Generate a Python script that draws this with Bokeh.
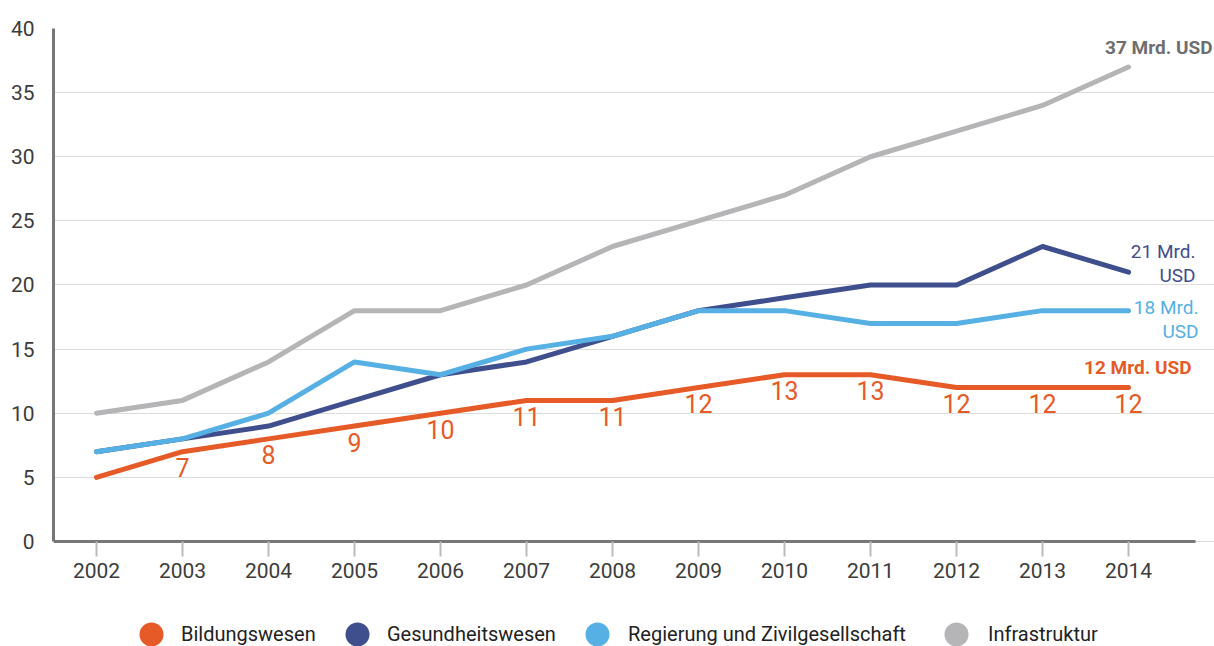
from bokeh.plotting import figure
from bokeh.models import (ColumnDataSource, Label, Legend, LegendItem, FixedTicker, Range1d)
from bokeh.core.properties import value
from bokeh.embed import file_html
from bokeh.resources import INLINE

years = [2002, 2003, 2004, 2005, 2006, 2007, 2008, 2009, 2010, 2011, 2012, 2013, 2014]
bildung = [5, 7, 8, 9, 10, 11, 11, 12, 13, 13, 12, 12, 12]
gesundheit = [7, 8, 9, 11, 13, 14, 16, 18, 19, 20, 20, 23, 21]
regierung = [7, 8, 10, 14, 13, 15, 16, 18, 18, 17, 17, 18, 18]
infrastruktur = [10, 11, 14, 18, 18, 20, 23, 25, 27, 30, 32, 34, 37]
y_ticks = [0, 5, 10, 15, 20, 25, 30, 35, 40]
series_names = ["Bildungswesen", "Gesundheitswesen", "Regierung und Zivilgesellschaft", "Infrastruktur"]
end_labels = ["12 Mrd. USD", "21 Mrd.\nUSD", "18 Mrd.\nUSD", "37 Mrd. USD"]

C_OR = "#E65A28"
C_NV = "#3F4E8C"
C_LB = "#56B0E3"
C_GR = "#B5B5B7"
FONT = "Roboto"

p = figure(width=1214, height=646, output_backend="svg", toolbar_location=None,
           x_range=Range1d(2001.5, 2015.0), y_range=Range1d(-8.19, 40),
           min_border_left=53, min_border_right=0, min_border_top=28, min_border_bottom=0)
p.outline_line_color = None
p.background_fill_color = "white"
p.border_fill_color = "white"

p.xgrid.grid_line_color = None
p.ygrid.grid_line_color = "#DCDCDC"
p.ygrid.grid_line_width = 1
p.ygrid.ticker = FixedTicker(ticks=y_ticks)

p.yaxis.ticker = FixedTicker(ticks=y_ticks)
p.yaxis.bounds = (0, 40)
p.yaxis.axis_line_color = "#77777A"
p.yaxis.axis_line_width = 3
p.yaxis.major_tick_line_color = None
p.yaxis.minor_tick_line_color = None
p.yaxis.major_label_standoff = 13
p.yaxis.major_label_text_font = FONT
p.yaxis.major_label_text_font_size = "21px"
p.yaxis.major_label_text_color = "#3C3C3C"

p.xaxis.fixed_location = 0
p.xaxis.bounds = (2001.5, 2014.78)
p.xaxis.ticker = FixedTicker(ticks=years)
p.xaxis.axis_line_color = "#77777A"
p.xaxis.axis_line_width = 3
p.xaxis.major_tick_line_color = "#BBBBBB"
p.xaxis.major_tick_line_width = 2
p.xaxis.major_tick_out = 15
p.xaxis.major_tick_in = 0
p.xaxis.minor_tick_line_color = None
p.xaxis.major_label_standoff = 7
p.xaxis.major_label_text_font = FONT
p.xaxis.major_label_text_font_size = "21px"
p.xaxis.major_label_text_color = "#3C3C3C"

src = ColumnDataSource(dict(x=years, b=bildung, g=gesundheit, r=regierung, i=infrastruktur))

series = [("b", C_OR), ("g", C_NV), ("r", C_LB), ("i", C_GR)]
for col, color in [("i", C_GR), ("g", C_NV), ("r", C_LB), ("b", C_OR)]:
    p.line("x", col, source=src, line_color=color, line_width=5,
           line_join="round", line_cap="round")

# value labels under the orange line (skip first year)
lab_src = ColumnDataSource(dict(x=years[1:], y=bildung[1:], t=[str(v) for v in bildung[1:]]))
p.text("x", "y", text="t", source=lab_src, text_color=C_OR, text_font=value(FONT),
       text_font_size="25px", text_align="center", text_baseline="middle", y_offset=16)

# end labels
end_specs = [
    (bildung[-1], end_labels[0], C_OR, "bold", 63, 20),
    (gesundheit[-1], end_labels[1], C_NV, "normal", 67, 9),
    (regierung[-1], end_labels[2], C_LB, "normal", 70, -9),
    (infrastruktur[-1], end_labels[3], "#6E6E70", "bold", 84, 19),
]
for yv, txt, color, style, xo, yo in end_specs:
    p.add_layout(Label(x=years[-1], y=yv, text=txt, x_offset=xo, y_offset=yo,
                       text_align="right", text_baseline="middle", text_color=color,
                       text_font=FONT, text_font_style=style, text_font_size="19px",
                       text_line_height=1.05))

# legend: one legend per item at fixed positions (hidden dot renderers as swatches)
leg_centers = [151, 357, 597, 956]
leg_standoffs = [0, 0, 1, 2]
for name, (col, color), cx, so in zip(series_names, series, leg_centers, leg_standoffs):
    r = p.scatter("x", col, source=src, marker="circle", size=24, fill_color=color,
                  line_color=None, visible=False)
    leg = Legend(items=[LegendItem(label=name, renderers=[r])],
                 location=(cx - 53 - 30, -18), orientation="horizontal",
                 glyph_width=60, glyph_height=60, label_height=60, label_standoff=so,
                 padding=0, margin=0, spacing=0,
                 background_fill_alpha=0, border_line_alpha=0,
                 inactive_fill_alpha=0,
                 label_text_font=FONT, label_text_font_size="20px",
                 label_text_color="#222222", label_text_baseline="middle")
    p.add_layout(leg, "center")

open("out.html", "w").write(file_html(p, INLINE))
